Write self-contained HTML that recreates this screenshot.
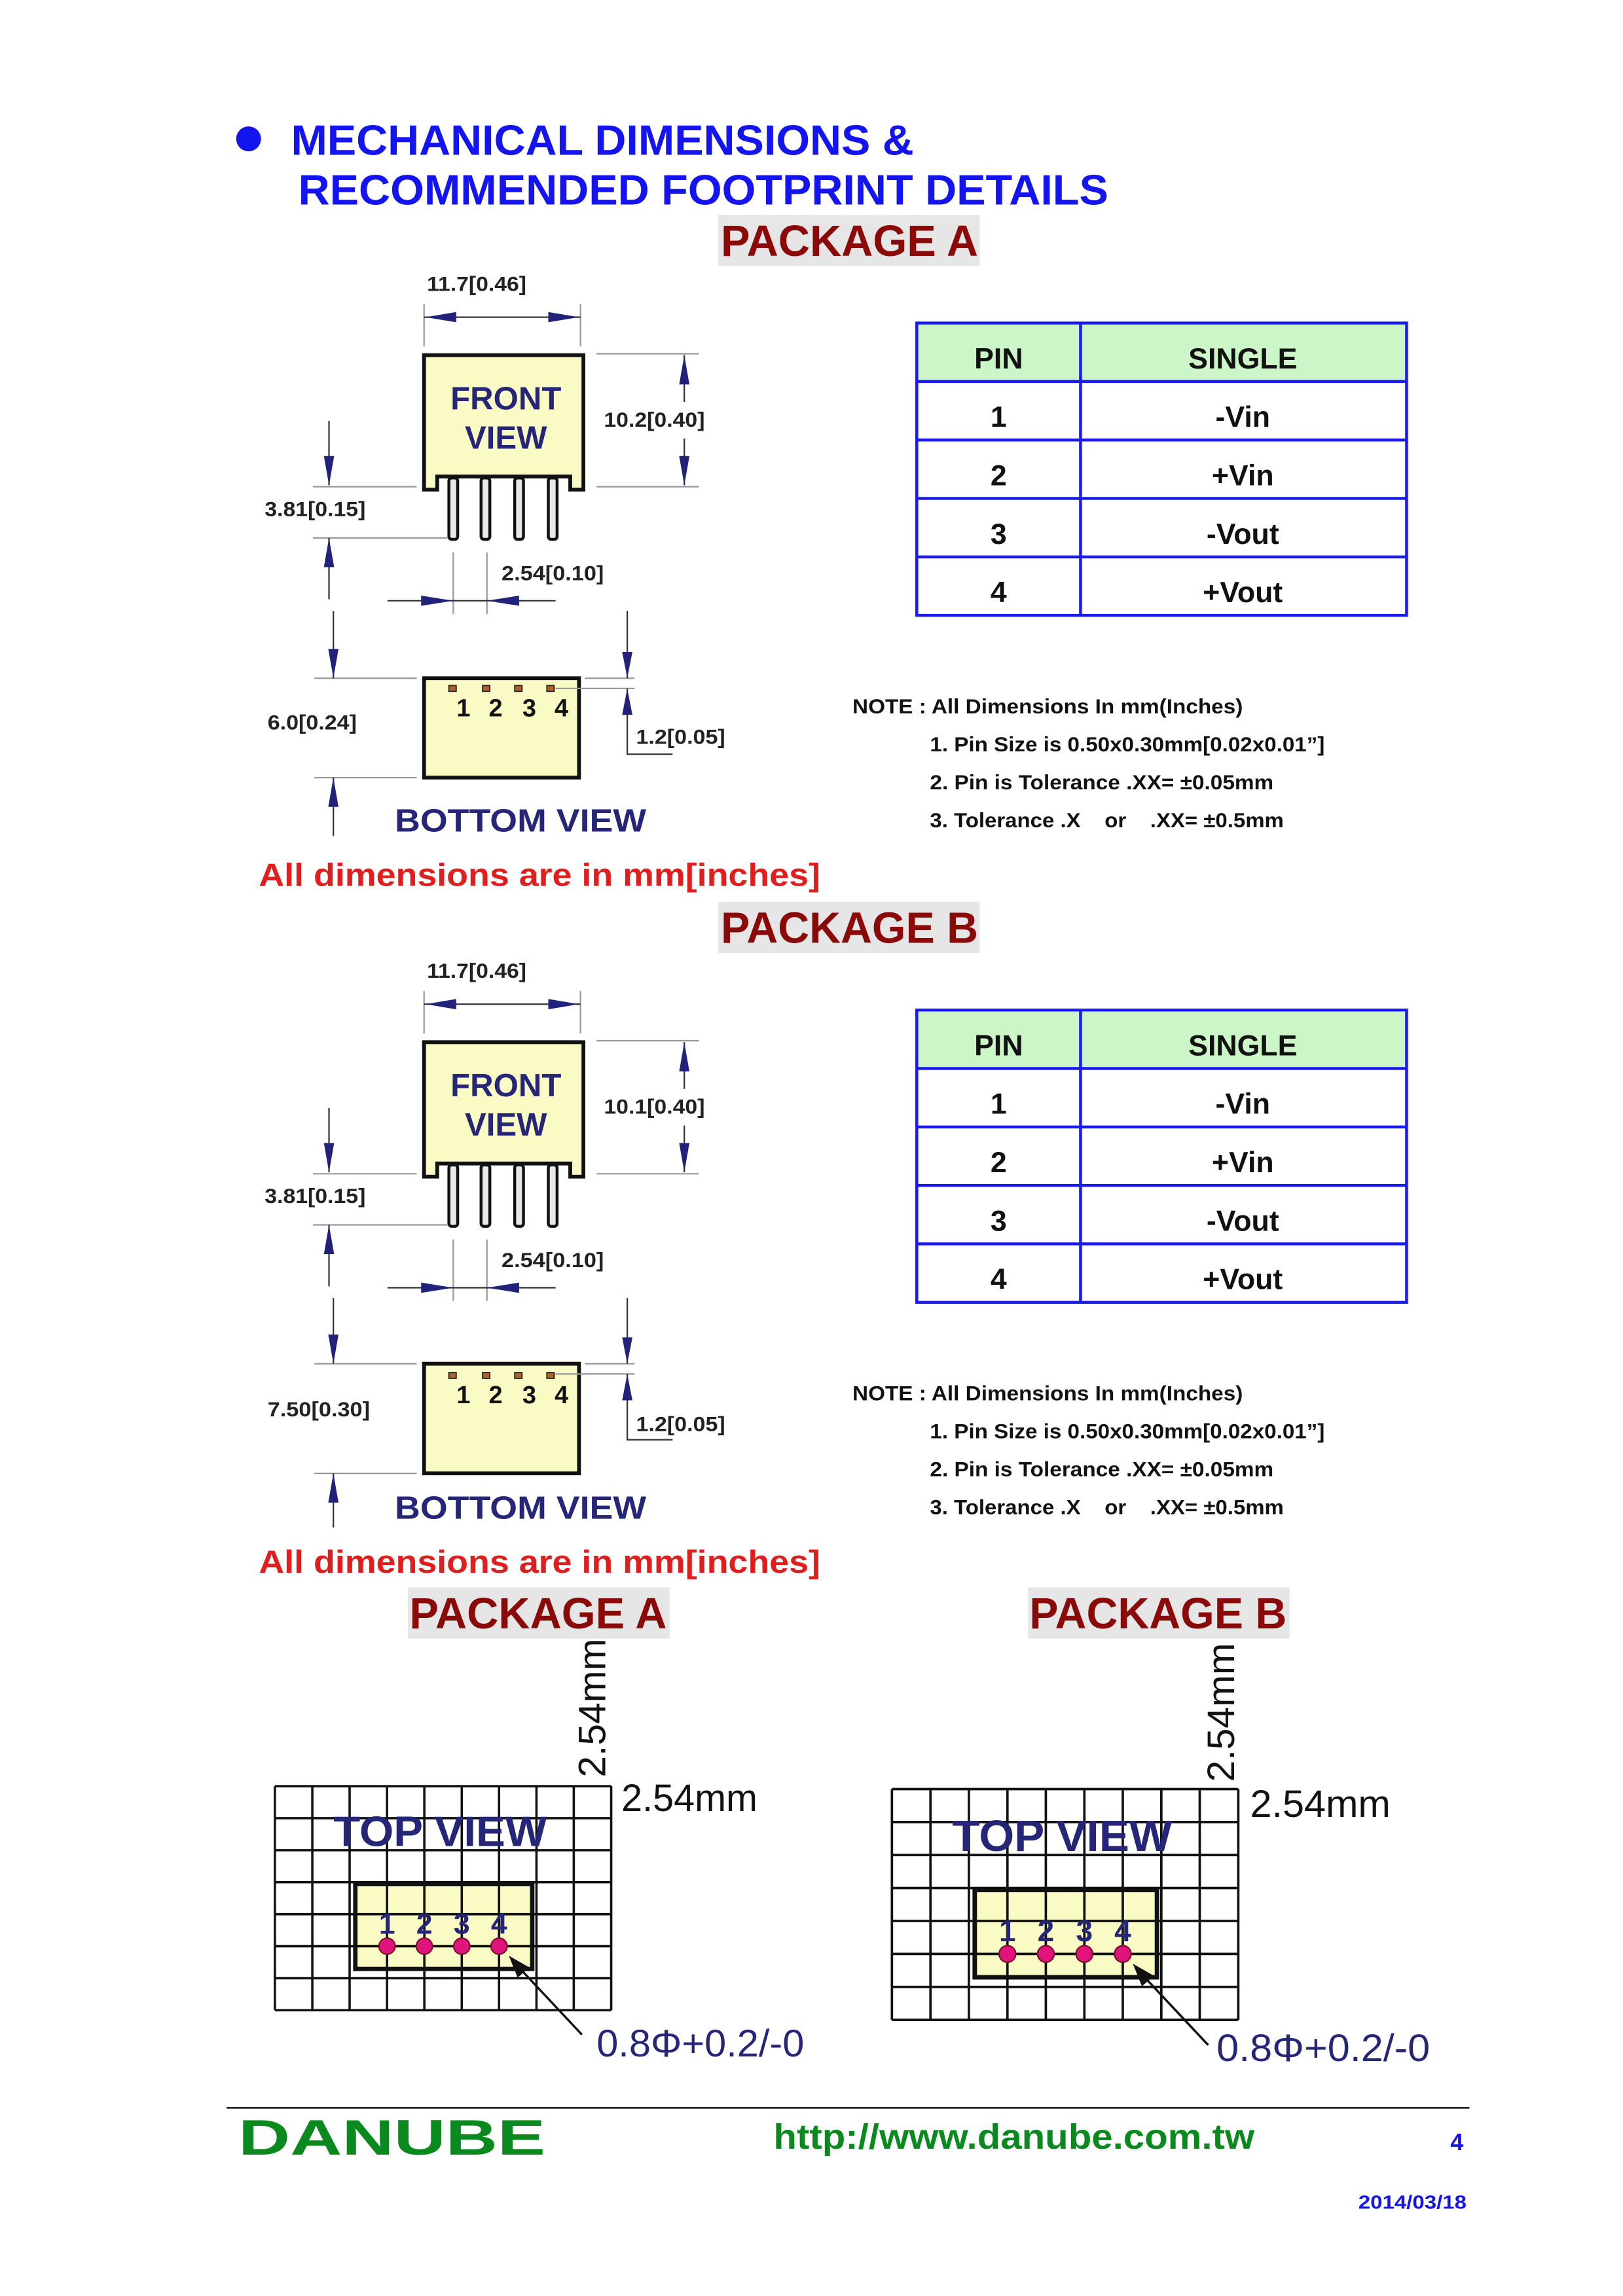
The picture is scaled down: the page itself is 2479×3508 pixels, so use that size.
<!DOCTYPE html>
<html><head><meta charset="utf-8"><style>html,body{margin:0;padding:0;background:#fff}svg{display:block}</style></head>
<body>
<svg xmlns="http://www.w3.org/2000/svg" width="2479" height="3508" viewBox="0 0 1110 1570.8" font-family="Liberation Sans, Arial, sans-serif">
<rect width="1110" height="1571" fill="#fff"/>
<defs>
<g id="fv">
  <line x1="290" y1="208" x2="290" y2="237" stroke="#999" stroke-width="1"/>
  <line x1="397" y1="208" x2="397" y2="237" stroke="#999" stroke-width="1"/>
  <line x1="290" y1="217" x2="397" y2="217" stroke="#333" stroke-width="1"/>
  <polygon points="291,217 312,213.5 312,220.5" fill="#22227a"/>
  <polygon points="396,217 375,213.5 375,220.5" fill="#22227a"/>
  <line x1="408" y1="242" x2="478" y2="242" stroke="#999" stroke-width="1"/>
  <line x1="408" y1="333" x2="478" y2="333" stroke="#999" stroke-width="1"/>
  <line x1="468" y1="243" x2="468" y2="275" stroke="#333" stroke-width="1"/>
  <line x1="468" y1="300" x2="468" y2="332" stroke="#333" stroke-width="1"/>
  <polygon points="468,243 464.5,263 471.5,263" fill="#22227a"/>
  <polygon points="468,332 464.5,312 471.5,312" fill="#22227a"/>
  <path d="M290,243 H399 V335 H390 V326 H299 V335 H290 Z" fill="#fafac4" stroke="#111" stroke-width="2.6" stroke-linejoin="miter"/>
  <g fill="#e8e8e8" stroke="#111" stroke-width="2">
    <rect x="307" y="327" width="6" height="42" rx="2"/>
    <rect x="329" y="327" width="6" height="42" rx="2"/>
    <rect x="352" y="327" width="6" height="42" rx="2"/>
    <rect x="375" y="327" width="6" height="42" rx="2"/>
  </g>
  <text x="346" y="280" font-size="22" font-weight="bold" fill="#262678" text-anchor="middle">FRONT</text>
  <text x="346" y="307" font-size="22" font-weight="bold" fill="#262678" text-anchor="middle">VIEW</text>
  <text x="292" y="199" font-size="14" font-weight="bold" fill="#222" textLength="68" lengthAdjust="spacingAndGlyphs">11.7[0.46]</text>
  <line x1="214" y1="333" x2="285" y2="333" stroke="#999" stroke-width="1"/>
  <line x1="214" y1="368" x2="306" y2="368" stroke="#999" stroke-width="1"/>
  <line x1="225" y1="288" x2="225" y2="332" stroke="#333" stroke-width="1"/>
  <polygon points="225,332 221.5,312 228.5,312" fill="#22227a"/>
  <line x1="225" y1="368" x2="225" y2="410" stroke="#333" stroke-width="1"/>
  <polygon points="225,368 221.5,388 228.5,388" fill="#22227a"/>
  <text x="181" y="353" font-size="14" font-weight="bold" fill="#222" textLength="69" lengthAdjust="spacingAndGlyphs">3.81[0.15]</text>
  <line x1="310" y1="378" x2="310" y2="420" stroke="#999" stroke-width="1"/>
  <line x1="333" y1="378" x2="333" y2="420" stroke="#999" stroke-width="1"/>
  <line x1="265" y1="411" x2="380" y2="411" stroke="#333" stroke-width="1"/>
  <polygon points="310,411 288,407.5 288,414.5" fill="#22227a"/>
  <polygon points="333,411 355,407.5 355,414.5" fill="#22227a"/>
  <text x="343" y="397" font-size="14" font-weight="bold" fill="#222" textLength="70" lengthAdjust="spacingAndGlyphs">2.54[0.10]</text>
</g>
<g id="tbl">
  <rect x="627" y="221" width="335" height="40" fill="#ccf5c8"/>
  <g stroke="#1a1aee" stroke-width="2" fill="none">
    <rect x="627" y="221" width="335" height="200"/>
    <line x1="627" y1="261" x2="962" y2="261"/>
    <line x1="627" y1="301" x2="962" y2="301"/>
    <line x1="627" y1="341" x2="962" y2="341"/>
    <line x1="627" y1="381" x2="962" y2="381"/>
    <line x1="739" y1="221" x2="739" y2="421"/>
  </g>
  <g font-size="20" font-weight="bold" fill="#111" text-anchor="middle">
    <text x="683" y="252">PIN</text><text x="850" y="252">SINGLE</text>
    <text x="683" y="292">1</text><text x="850" y="292">-Vin</text>
    <text x="683" y="332">2</text><text x="850" y="332">+Vin</text>
    <text x="683" y="372">3</text><text x="850" y="372">-Vout</text>
    <text x="683" y="412">4</text><text x="850" y="412">+Vout</text>
  </g>
  <g font-size="14" font-weight="bold" fill="#111">
    <text x="583" y="488" textLength="267" lengthAdjust="spacingAndGlyphs">NOTE : All Dimensions In mm(Inches)</text>
    <text x="636" y="514" textLength="270" lengthAdjust="spacingAndGlyphs">1. Pin Size is 0.50x0.30mm[0.02x0.01”]</text>
    <text x="636" y="540" textLength="235" lengthAdjust="spacingAndGlyphs">2. Pin is Tolerance .XX= ±0.05mm</text>
    <text x="636" y="566" textLength="242" lengthAdjust="spacingAndGlyphs" xml:space="preserve">3. Tolerance .X    or    .XX= ±0.5mm</text>
  </g>
</g>
<g id="fp">
  <rect x="54" y="66" width="121" height="58" fill="#fafac4"/>
  <g stroke="#111" stroke-width="1.6">
    <line x1="0" y1="0" x2="230" y2="0"/><line x1="0" y1="21.9" x2="230" y2="21.9"/><line x1="0" y1="43.8" x2="230" y2="43.8"/><line x1="0" y1="65.7" x2="230" y2="65.7"/><line x1="0" y1="87.6" x2="230" y2="87.6"/><line x1="0" y1="109.5" x2="230" y2="109.5"/><line x1="0" y1="131.4" x2="230" y2="131.4"/><line x1="0" y1="153.3" x2="230" y2="153.3"/>
    <line x1="0" y1="0" x2="0" y2="153.3"/><line x1="25.6" y1="0" x2="25.6" y2="153.3"/><line x1="51.1" y1="0" x2="51.1" y2="153.3"/><line x1="76.7" y1="0" x2="76.7" y2="153.3"/><line x1="102.2" y1="0" x2="102.2" y2="153.3"/><line x1="127.8" y1="0" x2="127.8" y2="153.3"/><line x1="153.3" y1="0" x2="153.3" y2="153.3"/><line x1="178.9" y1="0" x2="178.9" y2="153.3"/><line x1="204.4" y1="0" x2="204.4" y2="153.3"/><line x1="230" y1="0" x2="230" y2="153.3"/>
  </g>
  <rect x="55" y="67" width="121" height="58" fill="none" stroke="#111" stroke-width="3"/>
  <text x="113" y="41" font-size="29" font-weight="bold" fill="#262678" text-anchor="middle" textLength="146" lengthAdjust="spacingAndGlyphs">TOP VIEW</text>
  <g font-size="20" font-weight="bold" fill="#262678" text-anchor="middle">
    <text x="76.7" y="101">1</text><text x="102.2" y="101">2</text><text x="127.8" y="101">3</text><text x="153.3" y="101">4</text>
  </g>
  <g fill="#e0147a" stroke="#7a1030" stroke-width="1">
    <circle cx="76.7" cy="109.5" r="5.5"/><circle cx="102.2" cy="109.5" r="5.5"/><circle cx="127.8" cy="109.5" r="5.5"/><circle cx="153.3" cy="109.5" r="5.5"/>
  </g>
  <line x1="210" y1="170" x2="165" y2="122" stroke="#111" stroke-width="1.5"/>
  <polygon points="160,116 174,124 166,131" fill="#111"/>
</g>
</defs>

<!-- Header -->
<circle cx="170" cy="95" r="8.5" fill="#1414f0"/>
<text x="199" y="106" font-size="29" font-weight="bold" fill="#1414f0" textLength="426" lengthAdjust="spacingAndGlyphs">MECHANICAL DIMENSIONS &amp;</text>
<text x="204" y="140" font-size="29" font-weight="bold" fill="#1414f0" textLength="554" lengthAdjust="spacingAndGlyphs">RECOMMENDED FOOTPRINT DETAILS</text>

<!-- Package A -->
<rect x="491" y="147" width="179" height="35" fill="#e6e6e6"/>
<text x="581" y="175" font-size="30" font-weight="bold" fill="#8a0a0a" text-anchor="middle" textLength="176" lengthAdjust="spacingAndGlyphs">PACKAGE A</text>
<use href="#fv"/>
<text x="413" y="292" font-size="14" font-weight="bold" fill="#222" textLength="69" lengthAdjust="spacingAndGlyphs">10.2[0.40]</text>
<g>
  <line x1="215" y1="464" x2="285" y2="464" stroke="#999" stroke-width="1"/>
  <line x1="215" y1="532" x2="285" y2="532" stroke="#999" stroke-width="1"/>
  <line x1="228" y1="418" x2="228" y2="464" stroke="#333" stroke-width="1"/>
  <polygon points="228,464 224.5,444 231.5,444" fill="#22227a"/>
  <line x1="228" y1="532" x2="228" y2="572" stroke="#333" stroke-width="1"/>
  <polygon points="228,532 224.5,552 231.5,552" fill="#22227a"/>
  <text x="183" y="499" font-size="14" font-weight="bold" fill="#222" textLength="61" lengthAdjust="spacingAndGlyphs">6.0[0.24]</text>
  <rect x="290" y="464" width="106" height="68" fill="#fafac4" stroke="#111" stroke-width="2.6"/>
  <line x1="400" y1="464" x2="434" y2="464" stroke="#999" stroke-width="1"/>
  <line x1="380" y1="471" x2="434" y2="471" stroke="#999" stroke-width="1"/>
  <line x1="429" y1="418" x2="429" y2="464" stroke="#333" stroke-width="1"/>
  <polygon points="429,464 425.5,446 432.5,446" fill="#22227a"/>
  <path d="M429,471 V516 H460" fill="none" stroke="#333" stroke-width="1"/>
  <polygon points="429,471 425.5,489 432.5,489" fill="#22227a"/>
  <text x="435" y="509" font-size="14" font-weight="bold" fill="#222" textLength="61" lengthAdjust="spacingAndGlyphs">1.2[0.05]</text>
  <g fill="#b0602a" stroke="#222" stroke-width="0.8"><rect x="307" y="469" width="5" height="4"/><rect x="330" y="469" width="5" height="4"/><rect x="352" y="469" width="5" height="4"/><rect x="374" y="469" width="5" height="4"/></g>
  <g font-size="17" font-weight="bold" fill="#111" text-anchor="middle"><text x="317" y="490">1</text><text x="339" y="490">2</text><text x="362" y="490">3</text><text x="384" y="490">4</text></g>
  <text x="270" y="569" font-size="22" font-weight="bold" fill="#262678" textLength="172" lengthAdjust="spacingAndGlyphs">BOTTOM VIEW</text>
</g>
<use href="#tbl"/>
<text x="177" y="606" font-size="22" font-weight="bold" fill="#e01e1e" textLength="384" lengthAdjust="spacingAndGlyphs">All dimensions are in mm[inches]</text>

<!-- Package B -->
<rect x="491" y="617" width="179" height="35" fill="#e6e6e6"/>
<text x="581" y="645" font-size="30" font-weight="bold" fill="#8a0a0a" text-anchor="middle" textLength="176" lengthAdjust="spacingAndGlyphs">PACKAGE B</text>
<use href="#fv" y="470"/>
<text x="413" y="762" font-size="14" font-weight="bold" fill="#222" textLength="69" lengthAdjust="spacingAndGlyphs">10.1[0.40]</text>
<g>
  <line x1="215" y1="933" x2="285" y2="933" stroke="#999" stroke-width="1"/>
  <line x1="215" y1="1008" x2="285" y2="1008" stroke="#999" stroke-width="1"/>
  <line x1="228" y1="888" x2="228" y2="933" stroke="#333" stroke-width="1"/>
  <polygon points="228,933 224.5,913 231.5,913" fill="#22227a"/>
  <line x1="228" y1="1008" x2="228" y2="1045" stroke="#333" stroke-width="1"/>
  <polygon points="228,1008 224.5,1028 231.5,1028" fill="#22227a"/>
  <text x="183" y="969" font-size="14" font-weight="bold" fill="#222" textLength="70" lengthAdjust="spacingAndGlyphs">7.50[0.30]</text>
  <rect x="290" y="933" width="106" height="75" fill="#fafac4" stroke="#111" stroke-width="2.6"/>
  <line x1="400" y1="933" x2="434" y2="933" stroke="#999" stroke-width="1"/>
  <line x1="380" y1="940" x2="434" y2="940" stroke="#999" stroke-width="1"/>
  <line x1="429" y1="888" x2="429" y2="933" stroke="#333" stroke-width="1"/>
  <polygon points="429,933 425.5,915 432.5,915" fill="#22227a"/>
  <path d="M429,940 V985 H460" fill="none" stroke="#333" stroke-width="1"/>
  <polygon points="429,940 425.5,958 432.5,958" fill="#22227a"/>
  <text x="435" y="979" font-size="14" font-weight="bold" fill="#222" textLength="61" lengthAdjust="spacingAndGlyphs">1.2[0.05]</text>
  <g fill="#b0602a" stroke="#222" stroke-width="0.8"><rect x="307" y="939" width="5" height="4"/><rect x="330" y="939" width="5" height="4"/><rect x="352" y="939" width="5" height="4"/><rect x="374" y="939" width="5" height="4"/></g>
  <g font-size="17" font-weight="bold" fill="#111" text-anchor="middle"><text x="317" y="960">1</text><text x="339" y="960">2</text><text x="362" y="960">3</text><text x="384" y="960">4</text></g>
  <text x="270" y="1039" font-size="22" font-weight="bold" fill="#262678" textLength="172" lengthAdjust="spacingAndGlyphs">BOTTOM VIEW</text>
</g>
<use href="#tbl" y="470"/>
<text x="177" y="1076" font-size="22" font-weight="bold" fill="#e01e1e" textLength="384" lengthAdjust="spacingAndGlyphs">All dimensions are in mm[inches]</text>

<!-- Footprints -->
<rect x="279" y="1086" width="179" height="35" fill="#e6e6e6"/>
<text x="368" y="1114" font-size="30" font-weight="bold" fill="#8a0a0a" text-anchor="middle" textLength="176" lengthAdjust="spacingAndGlyphs">PACKAGE A</text>
<rect x="703" y="1086" width="179" height="35" fill="#e6e6e6"/>
<text x="792" y="1114" font-size="30" font-weight="bold" fill="#8a0a0a" text-anchor="middle" textLength="176" lengthAdjust="spacingAndGlyphs">PACKAGE B</text>

<use href="#fp" transform="translate(188,1222)"/>
<use href="#fp" transform="translate(610,1224) scale(1.03,1.03)"/>

<text transform="translate(414,1216) rotate(-90)" font-size="26" fill="#111" textLength="95" lengthAdjust="spacingAndGlyphs">2.54mm</text>
<text x="425" y="1239" font-size="26" fill="#111" textLength="93" lengthAdjust="spacingAndGlyphs">2.54mm</text>
<text x="408" y="1407" font-size="26" fill="#262678" textLength="142" lengthAdjust="spacingAndGlyphs">0.8Φ+0.2/-0</text>

<text transform="translate(844,1219) rotate(-90)" font-size="26" fill="#111" textLength="95" lengthAdjust="spacingAndGlyphs">2.54mm</text>
<text x="855" y="1243" font-size="26" fill="#111" textLength="96" lengthAdjust="spacingAndGlyphs">2.54mm</text>
<text x="832" y="1410" font-size="26" fill="#262678" textLength="146" lengthAdjust="spacingAndGlyphs">0.8Φ+0.2/-0</text>

<!-- Footer -->
<line x1="155" y1="1442" x2="1005" y2="1442" stroke="#222" stroke-width="1.2"/>
<text x="163" y="1474" font-size="34" font-weight="bold" fill="#0a8a1e" textLength="210" lengthAdjust="spacingAndGlyphs">DANUBE</text>
<text x="529" y="1470" font-size="24" font-weight="bold" fill="#0a8a1e" textLength="329" lengthAdjust="spacingAndGlyphs">http://www.danube.com.tw</text>
<text x="992" y="1471" font-size="16" font-weight="bold" fill="#1414f0">4</text>
<text x="929" y="1511" font-size="13" font-weight="bold" fill="#1414f0" textLength="74" lengthAdjust="spacingAndGlyphs">2014/03/18</text>
</svg>
</body></html>
